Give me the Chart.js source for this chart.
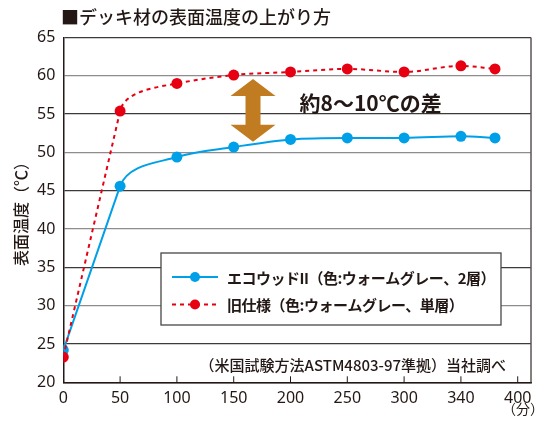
<!DOCTYPE html>
<html>
<head>
<meta charset="utf-8">
<script src="https://cdn.jsdelivr.net/npm/chart.js@4/dist/chart.umd.min.js"></script>
<style>
  html, body { margin: 0; padding: 0; background: #fff; }
  #wrap { width: 550px; height: 428px; }
</style>
</head>
<body>
<div id="wrap"><canvas id="lineChart"></canvas></div>
<script>
// データ (経過時間と表面温度)
var minutes = [0, 50, 100, 150, 200, 250, 300, 350, 380];
var ecoWood = [24.2, 45.6, 49.4, 50.7, 51.7, 51.9, 51.9, 52.1, 51.9];
var oldSpec = [23.3, 55.4, 59.0, 60.1, 60.5, 60.9, 60.5, 61.3, 60.9];
var xTicks = [0, 50, 100, 150, 200, 250, 300, 350, 400];
var xTickLabels = ['0', '50', '100', '150', '200', '250', '300', '340', '400'];
var seriesNames = ['エコウッドII（色:ウォームグレー、2層）', '旧仕様（色:ウォームグレー、単層）'];

var ink = '#231815';
var blue = '#00a0e9';
var red = '#e60012';
var jp = '"Noto Sans CJK JP", "Noto Sans", sans-serif';

function toPoints(ys) {
    return minutes.map(function (m, i) { return { x: m, y: ys[i] }; });
}

// 最初の区間は直線にして、50分の点からなめらかに曲げる
var straightStart = {
    id: 'straightStart',
    beforeDatasetsDraw: function (chart) {
        chart.data.datasets.forEach(function (ds, i) {
            var meta = chart.getDatasetMeta(i);
            meta.dataset.updateControlPoints(chart.chartArea, 'x');
            var p = meta.data;
            var dx = p[1].x - p[0].x, dy = p[1].y - p[0].y;
            var len = Math.sqrt(dx * dx + dy * dy);
            p[0].cp2x = p[0].x + dx / 3; p[0].cp2y = p[0].y + dy / 3;
            p[1].cp1x = p[1].x - dx / 3; p[1].cp1y = p[1].y - dy / 3;
            var k = 0.75 * Math.abs(p[2].y - p[1].y) / Math.abs(dy / len);
            p[1].cp2x = p[1].x + dx / len * k;
            p[1].cp2y = p[1].y + dy / len * k;
        });
    }
};

// 注釈・凡例などを描くプラグイン
var decorations = {
    id: 'decorations',
    beforeDatasetsDraw: function (chart) {
        var ctx = chart.ctx;
        var xs = chart.scales.x, ys = chart.scales.y;
        var cx = xs.getPixelForValue(167);
        var top = ys.getPixelForValue(59.6);
        var bot = ys.getPixelForValue(51.4);
        var hw = 22.5, sw = 7.5, hh = 17;
        ctx.save();
        ctx.fillStyle = '#c17b21';
        ctx.beginPath();
        ctx.moveTo(cx, top);
        ctx.lineTo(cx + hw, top + hh);
        ctx.lineTo(cx + sw, top + hh);
        ctx.lineTo(cx + sw, bot - hh);
        ctx.lineTo(cx + hw, bot - hh);
        ctx.lineTo(cx, bot);
        ctx.lineTo(cx - hw, bot - hh);
        ctx.lineTo(cx - sw, bot - hh);
        ctx.lineTo(cx - sw, top + hh);
        ctx.lineTo(cx - hw, top + hh);
        ctx.closePath();
        ctx.fill();
        ctx.restore();
    },
    afterDatasetsDraw: function (chart) {
        var ctx = chart.ctx;
        var area = chart.chartArea;
        var xs = chart.scales.x, ys = chart.scales.y;
        ctx.save();

        // 右枠
        ctx.strokeStyle = '#5a5655';
        ctx.lineWidth = 1.5;
        ctx.beginPath();
        ctx.moveTo(area.right, area.top);
        ctx.lineTo(area.right, area.bottom);
        ctx.stroke();

        // x軸の目盛り (内向き)
        ctx.strokeStyle = ink;
        ctx.lineWidth = 1;
        xTicks.forEach(function (v) {
            if (v === 0) return;
            var px = xs.getPixelForValue(v);
            ctx.beginPath();
            ctx.moveTo(px, area.bottom);
            ctx.lineTo(px, area.bottom - 6);
            ctx.stroke();
        });

        // タイトル
        ctx.fillStyle = ink;
        ctx.textBaseline = 'middle';
        ctx.textAlign = 'left';
        ctx.font = '500 18px ' + jp;
        ctx.fillText('■デッキ材の表面温度の上がり方', 61, 17);

        // 単位
        ctx.font = '14px ' + jp;
        ctx.textAlign = 'center';
        ctx.fillText('（分）', 523, 409);

        // 差の注釈
        ctx.font = 'bold 21px ' + jp;
        ctx.textAlign = 'left';
        ctx.fillText('約8〜10℃の差', xs.getPixelForValue(208), ys.getPixelForValue(56.4));

        // 凡例
        var lx = 161, ly = 253, lw = 340, lh = 72;
        ctx.fillStyle = '#fff';
        ctx.fillRect(lx, ly, lw, lh);
        ctx.strokeStyle = '#4a4645';
        ctx.lineWidth = 1.3;
        ctx.strokeRect(lx, ly, lw, lh);

        var rows = [
            { y: 277, color: blue, dash: [], name: seriesNames[0] },
            { y: 304.5, color: red, dash: [4, 4], name: seriesNames[1] }
        ];
        rows.forEach(function (r) {
            ctx.strokeStyle = r.color;
            ctx.lineWidth = 2;
            ctx.setLineDash(r.dash);
            ctx.beginPath();
            ctx.moveTo(172, r.y);
            ctx.lineTo(218, r.y);
            ctx.stroke();
            ctx.setLineDash([]);
            ctx.fillStyle = r.color;
            ctx.beginPath();
            ctx.arc(195, r.y, 5, 0, Math.PI * 2);
            ctx.fill();
            ctx.fillStyle = ink;
            ctx.font = 'bold 15px ' + jp;
            ctx.letterSpacing = '-0.5px';
            ctx.textAlign = 'left';
            ctx.fillText(r.name, 227, r.y + 1);
            ctx.letterSpacing = '0px';
        });

        // 出典
        ctx.font = '500 15px ' + jp;
        ctx.textAlign = 'right';
        ctx.fillStyle = ink;
        ctx.fillText('（米国試験方法ASTM4803-97準拠）当社調べ', 506, 365);

        ctx.restore();
    }
};

var lineCanvas = document.getElementById('lineChart').getContext('2d');

var lineChart = new Chart(lineCanvas, {
    type: 'line',
    data: {
        datasets: [{
            label: seriesNames[0],
            data: toPoints(ecoWood),
            borderColor: blue,
            backgroundColor: blue,
            borderWidth: 2,
            pointRadius: 5.5,
            pointBorderWidth: 0,
            cubicInterpolationMode: 'monotone',
            order: 2
        }, {
            label: seriesNames[1],
            data: toPoints(oldSpec),
            borderColor: red,
            backgroundColor: red,
            borderWidth: 2,
            borderDash: [4, 4],
            pointRadius: 5.5,
            pointBorderWidth: 0,
            cubicInterpolationMode: 'monotone',
            order: 1
        }]
    },
    options: {
        responsive: true,
        maintainAspectRatio: false,
        animation: false,
        devicePixelRatio: 1,
        layout: { padding: { top: 37.5, right: 19, left: 0, bottom: 0 } },
        plugins: {
            legend: { display: false },
            tooltip: { enabled: false }
        },
        scales: {
            x: {
                type: 'linear',
                min: 0,
                max: 411.7,
                afterBuildTicks: function (scale) {
                    scale.ticks = xTicks.map(function (v) { return { value: v }; });
                },
                afterFit: function (scale) { scale.height = 45.7; },
                grid: { display: false, drawTicks: false },
                border: { display: true, color: ink, width: 1.5 },
                ticks: {
                    autoSkip: false,
                    maxRotation: 0,
                    padding: 7,
                    color: ink,
                    font: { family: 'Noto Sans', size: 16 },
                    callback: function (value, index) { return xTickLabels[index]; }
                }
            },
            y: {
                min: 20,
                max: 65,
                afterFit: function (scale) { scale.width = 63.3; },
                grid: {
                    drawTicks: false,
                    lineWidth: 1.3,
                    color: function (c) {
                        var v = c.tick.value;
                        return (v % 10 === 0 && v !== 20) ? '#8f8d8c' : '#3e3a39';
                    }
                },
                border: { display: true, color: ink, width: 1.5 },
                ticks: {
                    stepSize: 5,
                    padding: 8,
                    color: ink,
                    font: { family: 'Noto Sans', size: 16 }
                },
                title: {
                    display: true,
                    text: '表面温度（℃）',
                    color: ink,
                    padding: { top: 11, bottom: 0 },
                    font: { family: '"Noto Sans CJK JP"', size: 16, weight: '500' }
                }
            }
        }
    },
    plugins: [straightStart, decorations]
});
</script>
</body>
</html>
